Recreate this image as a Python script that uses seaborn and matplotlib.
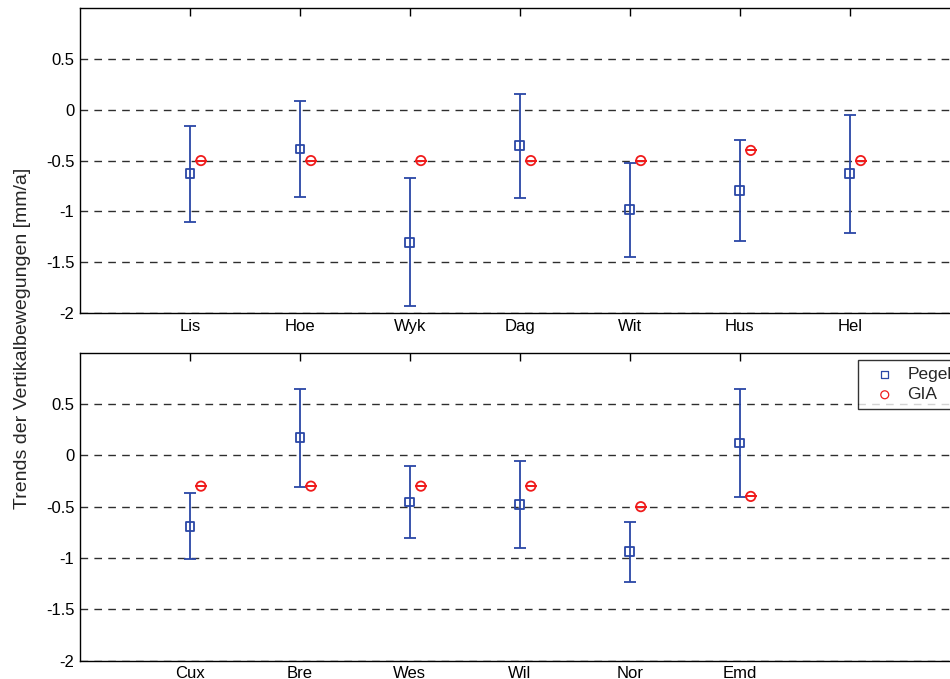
import numpy as np
import pandas as pd
import matplotlib
matplotlib.use("Agg")
import matplotlib.pyplot as plt
import seaborn as sns

# Stations and trends (mm/a) for the two coastal groups
stations_top = ["Lis", "Hoe", "Wyk", "Dag", "Wit", "Hus", "Hel"]
pegel_top = [-0.63, -0.385, -1.305, -0.355, -0.985, -0.795, -0.63]
pegel_err_top = [0.47, 0.47, 0.63, 0.51, 0.465, 0.50, 0.58]
gia_top = [-0.50, -0.50, -0.50, -0.50, -0.50, -0.40, -0.50]

stations_bot = ["Cux", "Bre", "Wes", "Wil", "Nor", "Emd"]
pegel_bot = [-0.69, 0.17, -0.455, -0.48, -0.94, 0.12]
pegel_err_bot = [0.32, 0.48, 0.35, 0.42, 0.29, 0.53]
gia_bot = [-0.30, -0.30, -0.30, -0.30, -0.50, -0.40]

y_ticks = [-2, -1.5, -1, -0.5, 0, 0.5]
y_ticklabels = ["-2", "-1.5", "-1", "-0.5", "0", "0.5"]

BLUE = "#2a47a6"
RED = "#f01c1c"
GIA_SHIFT = 0.1

sns.set_style("white")
plt.rcParams["font.family"] = ["Liberation Sans", "DejaVu Sans"]
plt.rcParams["axes.linewidth"] = 1.0

fig = plt.figure(figsize=(9.5, 6.79), dpi=100)
ax_top = fig.add_axes([0.0842, 0.539, 0.926, 0.449])
ax_bot = fig.add_axes([0.0842, 0.027, 0.926, 0.4536])


def draw_panel(ax, names, pegel, err, gia, legend):
    pos = np.arange(1, len(names) + 1)
    df_p = pd.DataFrame({"x": pos, "y": pegel, "Serie": "Pegel"})
    df_g = pd.DataFrame({"x": pos + GIA_SHIFT, "y": gia, "Serie": "GIA"})

    # dashed reference lines
    for yv in y_ticks:
        ax.axhline(yv, color="#2e2e2e", lw=1.0, ls=(0, (5.5, 4.5)), zorder=1)

    ax.errorbar(pos, pegel, yerr=err, fmt="none", ecolor=BLUE,
                elinewidth=1.3, capsize=4.5, capthick=1.3, zorder=2)
    ax.errorbar(pos + GIA_SHIFT, gia, yerr=np.zeros(len(gia)), fmt="none",
                ecolor=RED, elinewidth=1.3, capsize=4.5, capthick=1.3, zorder=2)

    sns.scatterplot(data=df_p, x="x", y="y", ax=ax, marker="s", s=40,
                    facecolors="none", edgecolor=BLUE, linewidth=1.3,
                    label="Pegel" if legend else None, zorder=3)
    sns.scatterplot(data=df_g, x="x", y="y", ax=ax, marker="o", s=45,
                    facecolors="none", edgecolor=RED, linewidth=1.3,
                    label="GIA" if legend else None, zorder=3)

    ax.set_xlim(0, 8)
    ax.set_ylim(-2, 1)
    ax.set_xticks(pos)
    ax.set_xticklabels(names)
    ax.set_yticks(y_ticks)
    ax.set_yticklabels(y_ticklabels)
    ax.set_xlabel("")
    ax.set_ylabel("")
    ax.tick_params(axis="both", direction="in", length=6, width=1.0,
                   labelsize=12, colors="black", top=True, right=True,
                   pad=4)
    for sp in ax.spines.values():
        sp.set_color("black")
        sp.set_visible(True)
    if legend:
        leg = ax.legend(loc="upper left", bbox_to_anchor=(0.903, 0.470),
                        bbox_transform=fig.transFigure, fontsize=12.5,
                        frameon=True, fancybox=False, edgecolor="black",
                        handletextpad=0.15, borderpad=0.4, labelspacing=0.3,
                        handlelength=2.3, markerscale=0.85, borderaxespad=0)
        leg.get_frame().set_linewidth(1.0)
        for h in leg.legend_handles:
            h.set_linewidth(0.9)
    elif ax.get_legend() is not None:
        ax.get_legend().remove()


draw_panel(ax_top, stations_top, pegel_top, pegel_err_top, gia_top, False)
draw_panel(ax_bot, stations_bot, pegel_bot, pegel_err_bot, gia_bot, True)

fig.text(0.024, 0.502, "Trends der Vertikalbewegungen [mm/a]", rotation=90,
         ha="center", va="center", fontsize=14)

fig.savefig("out.png", dpi=100)
